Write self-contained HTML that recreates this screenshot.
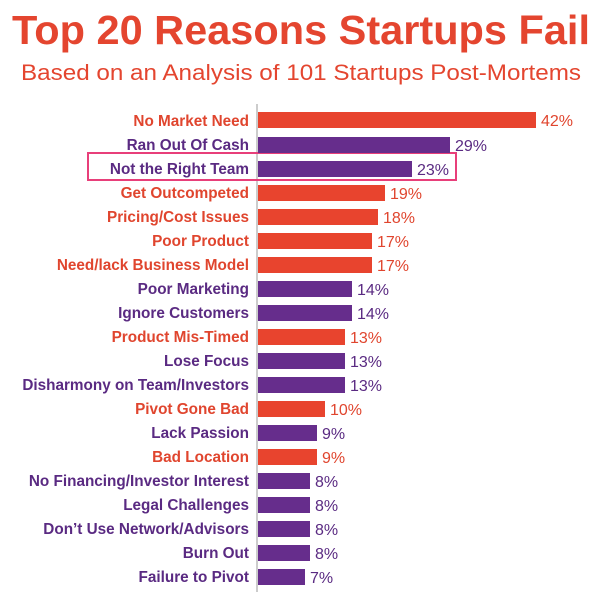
<!DOCTYPE html>
<html><head><style>
body{margin:0;background:#fff;}
svg{display:block;}
text{font-family:"Liberation Sans",Arial,sans-serif;}
.o{fill:#e8442e}.p{fill:#662d8c}
.lo{fill:#e0452e;font-size:15.3px;font-weight:bold;text-anchor:end}
.lp{fill:#5a2a82;font-size:15.3px;font-weight:bold;text-anchor:end}
.vo{fill:#e0452e;font-size:16px}
.vp{fill:#5a2a82;font-size:16px}
</style></head><body>
<svg width="602" height="598" viewBox="0 0 602 598">
<text x="12" y="44" font-size="41" font-weight="bold" fill="#e4452f" textLength="578" lengthAdjust="spacingAndGlyphs">Top 20 Reasons Startups Fail</text>
<text x="21" y="80" font-size="22" fill="#e4452f" textLength="560" lengthAdjust="spacingAndGlyphs">Based on an Analysis of 101 Startups Post-Mortems</text>
<line x1="257" y1="104" x2="257" y2="592" stroke="#999" stroke-width="1"/>
<rect x="88" y="153" width="368" height="27" fill="none" stroke="#e83f7a" stroke-width="2"/>

<rect class="o" x="258" y="112" width="278" height="16"/><text class="lo" x="249" y="126">No Market Need</text><text class="vo" x="541" y="126">42%</text>
<rect class="p" x="258" y="137" width="192" height="16"/><text class="lp" x="249" y="150">Ran Out Of Cash</text><text class="vp" x="455" y="151">29%</text>
<rect class="p" x="258" y="161" width="154" height="16"/><text class="lp" x="249" y="174">Not the Right Team</text><text class="vp" x="417" y="175">23%</text>
<rect class="o" x="258" y="185" width="127" height="16"/><text class="lo" x="249" y="198">Get Outcompeted</text><text class="vo" x="390" y="199">19%</text>
<rect class="o" x="258" y="209" width="120" height="16"/><text class="lo" x="249" y="222">Pricing/Cost Issues</text><text class="vo" x="383" y="223">18%</text>
<rect class="o" x="258" y="233" width="114" height="16"/><text class="lo" x="249" y="246">Poor Product</text><text class="vo" x="377" y="247">17%</text>
<rect class="o" x="258" y="257" width="114" height="16"/><text class="lo" x="249" y="270">Need/lack Business Model</text><text class="vo" x="377" y="271">17%</text>
<rect class="p" x="258" y="281" width="94" height="16"/><text class="lp" x="249" y="294">Poor Marketing</text><text class="vp" x="357" y="295">14%</text>
<rect class="p" x="258" y="305" width="94" height="16"/><text class="lp" x="249" y="318">Ignore Customers</text><text class="vp" x="357" y="319">14%</text>
<rect class="o" x="258" y="329" width="87" height="16"/><text class="lo" x="249" y="342">Product Mis-Timed</text><text class="vo" x="350" y="343">13%</text>
<rect class="p" x="258" y="353" width="87" height="16"/><text class="lp" x="249" y="366">Lose Focus</text><text class="vp" x="350" y="367">13%</text>
<rect class="p" x="258" y="377" width="87" height="16"/><text class="lp" x="249" y="390">Disharmony on Team/Investors</text><text class="vp" x="350" y="391">13%</text>
<rect class="o" x="258" y="401" width="67" height="16"/><text class="lo" x="249" y="414">Pivot Gone Bad</text><text class="vo" x="330" y="415">10%</text>
<rect class="p" x="258" y="425" width="59" height="16"/><text class="lp" x="249" y="438">Lack Passion</text><text class="vp" x="322" y="439">9%</text>
<rect class="o" x="258" y="449" width="59" height="16"/><text class="lo" x="249" y="462">Bad Location</text><text class="vo" x="322" y="463">9%</text>
<rect class="p" x="258" y="473" width="52" height="16"/><text class="lp" x="249" y="486">No Financing/Investor Interest</text><text class="vp" x="315" y="487">8%</text>
<rect class="p" x="258" y="497" width="52" height="16"/><text class="lp" x="249" y="510">Legal Challenges</text><text class="vp" x="315" y="511">8%</text>
<rect class="p" x="258" y="521" width="52" height="16"/><text class="lp" x="249" y="534">Don’t Use Network/Advisors</text><text class="vp" x="315" y="535">8%</text>
<rect class="p" x="258" y="545" width="52" height="16"/><text class="lp" x="249" y="558">Burn Out</text><text class="vp" x="315" y="559">8%</text>
<rect class="p" x="258" y="569" width="47" height="16"/><text class="lp" x="249" y="582">Failure to Pivot</text><text class="vp" x="310" y="583">7%</text>
</svg>
</body></html>
